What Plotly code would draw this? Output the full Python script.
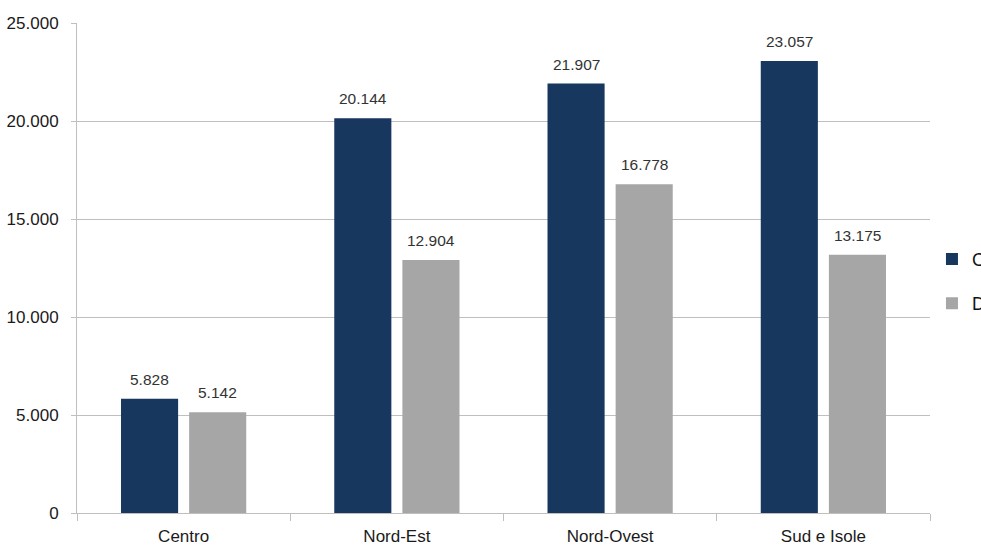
import plotly.graph_objects as go

categories = ["Centro", "Nord-Est", "Nord-Ovest", "Sud e Isole"]
serie_c = [5828, 20144, 21907, 23057]
serie_d = [5142, 12904, 16778, 13175]
names = ["C", "D"]
y_ticks = [0, 5000, 10000, 15000, 20000, 25000]

FONT = "Liberation Sans, Arial, sans-serif"

fig = go.Figure()
fig.add_trace(go.Bar(
    x=categories, y=serie_c, name=names[0], legendgroup="c",
    marker=dict(color="#17375E", line=dict(width=0)),
    offsetgroup="c",
))
fig.add_trace(go.Bar(
    x=categories, y=serie_d, name=names[1], legendgroup="d",
    marker=dict(color="#A6A6A6", line=dict(width=0)),
    offsetgroup="d",
))

# value labels above the bars, positioned via the axes
for vals, xshift in ((serie_c, -34), (serie_d, 34)):
    for cat, v in zip(categories, vals):
        fig.add_annotation(
            x=cat, y=v, xref="x", yref="y", text=f"{v:,}".replace(",", "."),
            showarrow=False, yanchor="bottom", xanchor="center",
            xshift=xshift, yshift=9,
            font=dict(family=FONT, size=15.5, color="#333333"),
        )

fig.update_layout(
    width=981, height=547,
    margin=dict(l=77, r=51, t=23, b=34, autoexpand=False),
    paper_bgcolor="white", plot_bgcolor="white",
    barmode="group", bargap=0.361, bargroupgap=0.162,
    separators=",.",
    font=dict(family=FONT, size=17, color="#222222"),
    legend=dict(
        x=1.0023, xanchor="left", y=0.473, yanchor="middle",
        font=dict(family=FONT, size=18, color="#111111"),
        tracegroupgap=18, itemwidth=30,
        bgcolor="rgba(0,0,0,0)",
    ),
    showlegend=True,
)
fig.update_xaxes(
    showline=True, linecolor="#BFBFBF", linewidth=1,
    ticks="outside", tickson="boundaries", ticklen=7, tickcolor="#BFBFBF",
    showgrid=False, ticklabelstandoff=8,
    tickfont=dict(family=FONT, size=17, color="#1a1a1a"),
)
fig.update_yaxes(
    range=[0, 25000], tickvals=y_ticks, tickformat=",",
    showline=True, linecolor="#BFBFBF", linewidth=1,
    ticks="outside", ticklen=5, tickcolor="#BFBFBF",
    showgrid=True, gridcolor="#BFBFBF", gridwidth=1,
    zeroline=False, ticklabelstandoff=9,
    tickfont=dict(family=FONT, size=17, color="#1a1a1a"),
)

fig.write_html("out.html")
